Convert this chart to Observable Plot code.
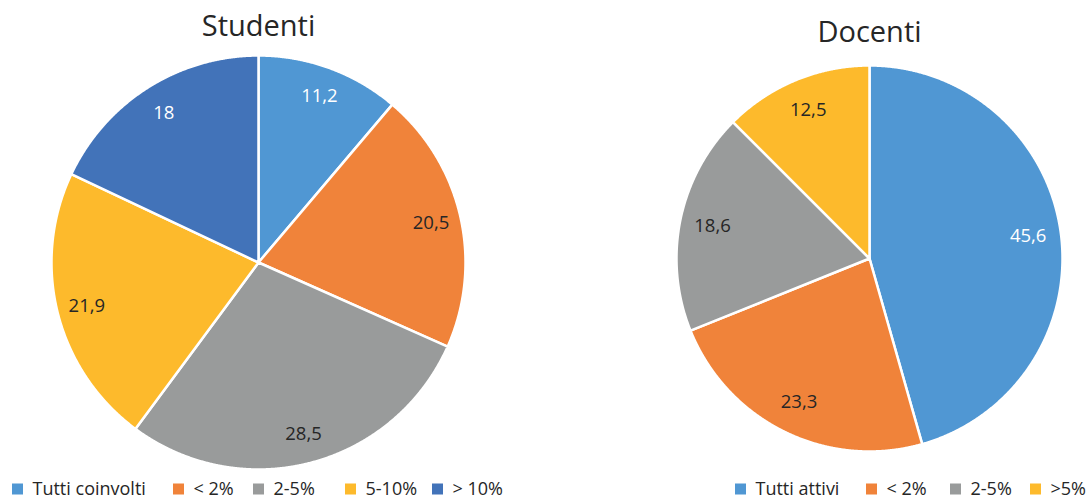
<!DOCTYPE html>
<html><head><meta charset="utf-8">
<script src="https://cdn.jsdelivr.net/npm/d3@7"></script>
<script src="https://cdn.jsdelivr.net/npm/@observablehq/plot@0.6"></script>
<style>body{margin:0;background:#fff;overflow:hidden}</style>
</head><body><div id="chart"></div>
<script>
// ---- data ----
const studentiCategories = ["Tutti coinvolti", "< 2%", "2-5%", "5-10%", "> 10%"];
const studentiValues = [11.2, 20.5, 28.5, 21.9, 18];
const docentiCategories = ["Tutti attivi", "< 2%", "2-5%", ">5%"];
const docentiValues = [45.6, 23.3, 18.6, 12.5];
const palette = ["#5097D3", "#F0833A", "#999B9B", "#FDBA2C", "#4273B9"];

// ---- layout ----
const W = 1090, H = 502;
const pies = [
  {title: "Studenti", cats: studentiCategories, vals: studentiValues, cx: 258, cy: 262, r: 207, lr: 0.855, ty: 26,
   legendY: 489, legendX: [12, 173, 253, 345, 432]},
  {title: "Docenti", cats: docentiCategories, vals: docentiValues, cx: 869, cy: 258, r: 193, lr: 0.83, ty: 32,
   legendY: 489, legendX: [735, 866, 950, 1030]}
];
const fmt = v => String(v).replace(".", ",");

const slicePts = [], labels = [], titles = [], legendRects = [], legendTexts = [];
pies.forEach((p, pi) => {
  const total = d3.sum(p.vals);
  let cum = 0;
  p.vals.forEach((v, i) => {
    const a0 = cum / total * 2 * Math.PI;
    cum += v;
    const a1 = cum / total * 2 * Math.PI;
    const key = pi + "-" + i;
    const col = palette[i];
    slicePts.push({k: key, x: p.cx, y: p.cy, c: col});
    const n = Math.max(2, Math.ceil((a1 - a0) / 0.004));
    for (let j = 0; j <= n; j++) {
      const a = a0 + (a1 - a0) * j / n;
      slicePts.push({k: key, x: p.cx + p.r * Math.sin(a), y: p.cy - p.r * Math.cos(a), c: col});
    }
    slicePts.push({k: key, x: p.cx, y: p.cy, c: col});
    const am = (a0 + a1) / 2;
    labels.push({x: p.cx + p.r * p.lr * Math.sin(am), y: p.cy - p.r * p.lr * Math.cos(am), t: fmt(v),
                 c: (i === 0 || i === 4) ? "#ffffff" : "#262626"});
    const lx = p.legendX[i];
    legendRects.push({x1: lx, x2: lx + 11, y1: p.legendY - 5.5, y2: p.legendY + 5.5, c: col});
    legendTexts.push({x: lx + 20, y: p.legendY, t: p.cats[i]});
  });
  titles.push({x: p.cx, y: p.ty, t: p.title});
});

const font = "'Open Sans', sans-serif";
const chart = Plot.plot({
  width: W, height: H,
  margin: 0,
  x: {domain: [0, W], range: [0, W], axis: null},
  y: {domain: [0, H], range: [0, H], axis: null},
  style: {fontFamily: font, background: "#fff"},
  marks: [
    Plot.line(slicePts, {x: "x", y: "y", z: "k", fill: "c", stroke: "#fff", strokeWidth: 2.5, strokeLinejoin: "round", curve: "linear"}),
    Plot.text(labels, {x: "x", y: "y", text: "t", fill: "c", fontSize: 18.5}),
    Plot.text(titles, {x: "x", y: "y", text: "t", fill: "#262626", fontSize: 29}),
    Plot.rect(legendRects, {x1: "x1", x2: "x2", y1: "y1", y2: "y2", fill: "c"}),
    Plot.text(legendTexts, {x: "x", y: "y", text: "t", textAnchor: "start", fill: "#262626", fontSize: 18})
  ]
});
document.getElementById("chart").appendChild(chart);
</script>
</body></html>
